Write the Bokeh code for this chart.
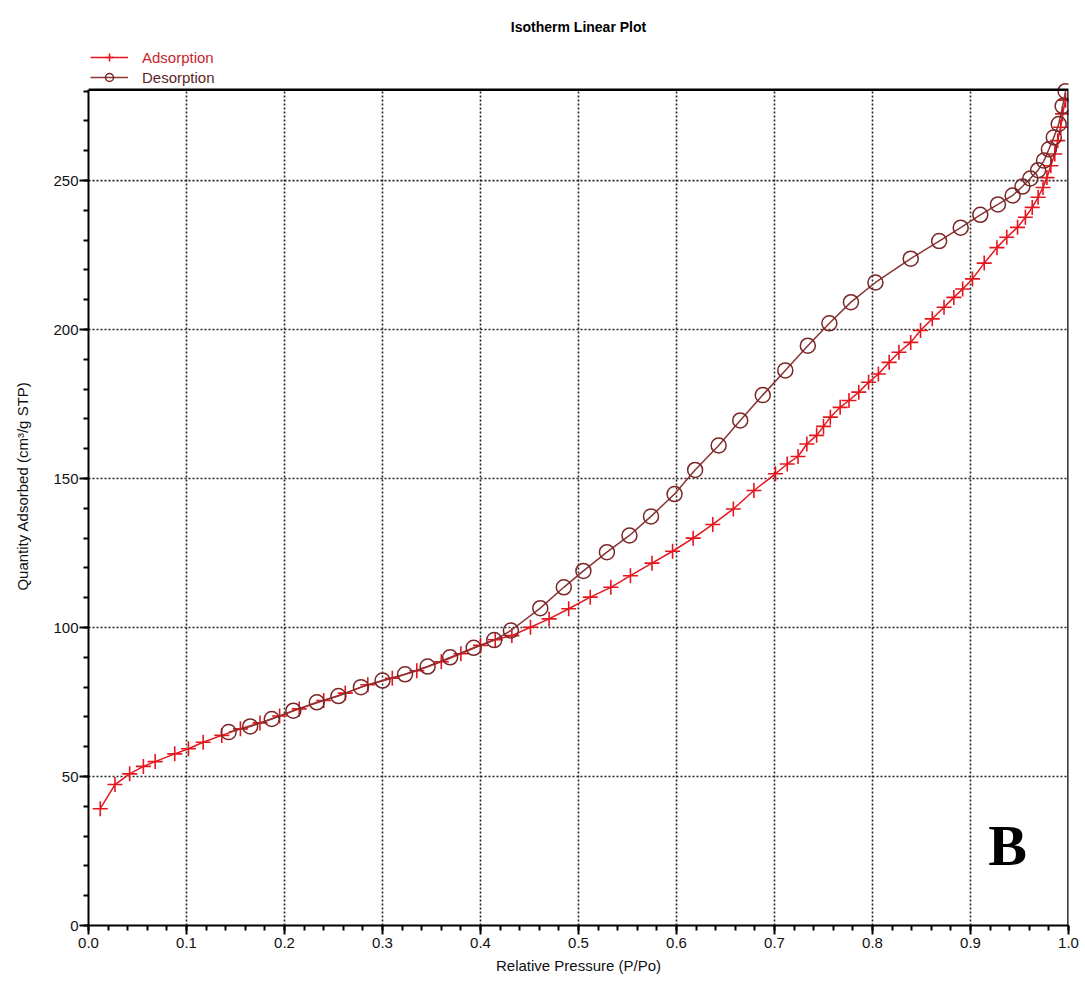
from bokeh.plotting import figure
from bokeh.models import (FixedTicker, NumeralTickFormatter, Legend, LegendItem,
                          Range1d, ColumnDataSource)
from bokeh.core.properties import value
from bokeh.embed import file_html
from bokeh.resources import INLINE

# ---- data ----
ads_x = [0.012, 0.027, 0.042, 0.056, 0.068, 0.088, 0.102, 0.117, 0.136,
         0.155, 0.175, 0.195, 0.215, 0.240, 0.262, 0.285, 0.310, 0.335,
         0.360, 0.380, 0.400, 0.415, 0.432, 0.451, 0.470, 0.490, 0.512,
         0.533, 0.553, 0.575, 0.596, 0.617, 0.637, 0.658, 0.679, 0.701,
         0.713, 0.724, 0.733, 0.743, 0.750, 0.757, 0.767, 0.776, 0.786,
         0.796, 0.806, 0.817, 0.827, 0.839, 0.849, 0.861, 0.873, 0.883,
         0.892, 0.902, 0.914, 0.927, 0.937, 0.948, 0.956, 0.963, 0.969,
         0.974, 0.978, 0.982, 0.986, 0.989, 0.992, 0.994, 0.997]
ads_y = [39.2, 47.3, 50.9, 53.4, 55.0, 57.6, 59.3, 61.5, 63.8,
         66.0, 68.0, 70.3, 72.7, 75.5, 78.0, 80.8, 83.0, 85.5,
         88.5, 91.2, 94.0, 95.9, 97.3, 100.1, 102.9, 106.3, 110.2,
         113.5, 117.4, 121.6, 125.6, 130.0, 134.6, 139.8, 146.0, 151.6,
         154.9, 157.4, 161.6, 164.5, 167.5, 170.6, 173.9, 176.2, 179.0,
         182.3, 185.1, 189.0, 192.4, 195.7, 199.7, 203.6, 207.5, 210.8,
         213.6, 217.0, 222.3, 227.5, 231.0, 234.3, 237.7, 241.0, 244.4,
         247.7, 251.0, 255.0, 258.9, 263.4, 267.9, 272.4, 277.0]

des_x = [0.143, 0.165, 0.187, 0.209, 0.233, 0.255, 0.278, 0.300, 0.323,
         0.346, 0.369, 0.393, 0.414, 0.431, 0.461, 0.485, 0.505, 0.529,
         0.552, 0.574, 0.598, 0.619, 0.643, 0.665, 0.688, 0.711, 0.734,
         0.756, 0.778, 0.803, 0.839, 0.868, 0.890, 0.910, 0.928, 0.943,
         0.953, 0.961, 0.969, 0.975, 0.980, 0.985, 0.990, 0.994, 0.997]
des_y = [64.9, 66.8, 69.3, 72.1, 74.9, 77.0, 80.0, 82.2, 84.3,
         86.9, 90.0, 93.2, 95.8, 99.0, 106.5, 113.5, 119.0, 125.3,
         130.9, 137.3, 144.8, 152.9, 161.1, 169.5, 178.0, 186.3, 194.6,
         202.1, 209.2, 215.8, 223.8, 229.7, 234.2, 238.5, 242.0, 245.0,
         248.0, 250.7, 253.5, 256.7, 260.5, 264.5, 269.0, 275.0, 280.0]

x_ticks = [0.0, 0.1, 0.2, 0.3, 0.4, 0.5, 0.6, 0.7, 0.8, 0.9, 1.0]
y_ticks = [0, 50, 100, 150, 200, 250]

title_text = "Isotherm Linear Plot"
x_label = "Relative Pressure (P/Po)"
y_label = "Quantity Adsorbed (cm³/g STP)"
panel_tag = "B"

# axis box limits (the visible plot box) and the extra room kept above it for the legend
X_MIN, X_MAX = 0.0, 1.0
Y_MIN, Y_BOX, Y_TOP = 0.0, 280.5, 295.0

ADS_COL = "#e3161e"
DES_COL = "#8a3434"
DES_MARK = "#7a2626"
FONT = "Liberation Sans"
TXT = "#111111"

p = figure(width=1085, height=985, output_backend="svg", toolbar_location=None,
           x_range=Range1d(X_MIN, X_MAX), y_range=Range1d(Y_MIN, Y_TOP),
           min_border_left=88, min_border_right=17, min_border_top=46,
           min_border_bottom=60, background_fill_color="white",
           border_fill_color="white")

p.title.text = title_text
p.title.align = "center"
p.title.text_font = FONT
p.title.text_font_size = "14px"
p.title.text_font_style = "bold"
p.title.text_color = "#000000"
p.title.standoff = 24

p.outline_line_color = None

for ax in (p.xaxis[0], p.yaxis[0]):
    ax.axis_line_color = "black"
    ax.axis_line_width = 2
    ax.major_tick_line_color = "black"
    ax.major_tick_line_width = 2
    ax.minor_tick_line_color = "black"
    ax.minor_tick_line_width = 2
    ax.major_tick_out = 9
    ax.major_tick_in = 0
    ax.minor_tick_out = 5
    ax.minor_tick_in = 0
    ax.major_label_text_font = FONT
    ax.major_label_text_font_size = "15px"
    ax.major_label_text_color = TXT
    ax.axis_label_text_font = FONT
    ax.axis_label_text_font_size = "15px"
    ax.axis_label_text_font_style = "normal"
    ax.axis_label_text_color = TXT

minor_x = [round(i * 0.02, 2) for i in range(51)]
minor_y = list(range(0, 281, 10))
p.xaxis.ticker = FixedTicker(ticks=x_ticks, minor_ticks=minor_x)
p.yaxis.ticker = FixedTicker(ticks=y_ticks, minor_ticks=minor_y)
p.yaxis.bounds = (Y_MIN, Y_BOX)
p.xaxis.formatter = NumeralTickFormatter(format="0.0")
p.xaxis.axis_label = x_label
p.yaxis.axis_label = y_label
p.xaxis.major_label_standoff = 3
p.yaxis.major_label_standoff = 1
p.xaxis.axis_label_standoff = 6
p.yaxis.axis_label_standoff = 19

# grid drawn as dotted segments inside the plot box only
p.xgrid.visible = False
p.ygrid.visible = False
grid_kw = dict(line_color="#222222", line_width=1.6, line_dash="2 2")
p.segment(x0=x_ticks[1:-1], y0=[Y_MIN] * (len(x_ticks) - 2),
          x1=x_ticks[1:-1], y1=[Y_BOX] * (len(x_ticks) - 2), **grid_kw)
p.segment(x0=[X_MIN] * (len(y_ticks) - 1), y0=y_ticks[1:],
          x1=[X_MAX] * (len(y_ticks) - 1), y1=y_ticks[1:], **grid_kw)

ads = ColumnDataSource(dict(x=ads_x, y=ads_y))
des = ColumnDataSource(dict(x=des_x, y=des_y))

ads_line = p.line("x", "y", source=ads, line_color=ADS_COL, line_width=1.5)
ads_mark = p.scatter("x", "y", source=ads, marker="cross", size=15,
                     line_color=ADS_COL, line_width=1.6)
des_line = p.line("x", "y", source=des, line_color=DES_COL, line_width=1.5)
des_mark = p.scatter("x", "y", source=des, marker="circle", size=15,
                     line_color=DES_MARK, fill_alpha=0, line_width=1.5)

# top and right edges of the plot box
p.line(x=[X_MIN, X_MAX, X_MAX], y=[Y_BOX, Y_BOX, Y_MIN], line_color="black",
       line_width=2.5)

p.text(x=[0.918], y=[26.8], text=[panel_tag], text_font=value("Liberation Serif"),
       text_font_size="58px", text_font_style="bold", text_color="black",
       text_baseline="alphabetic", text_align="left")

leg1 = Legend(items=[LegendItem(label="Adsorption", renderers=[ads_line, ads_mark])],
              location=(2, 858), label_text_color="#c8242a")
leg2 = Legend(items=[LegendItem(label="Desorption", renderers=[des_line, des_mark])],
              location=(2, 838), label_text_color="#5c2626")
for lg in (leg1, leg2):
    lg.margin = 0
    lg.padding = 0
    lg.spacing = 0
    lg.glyph_width = 38
    lg.glyph_height = 20
    lg.label_height = 20
    lg.label_standoff = 14
    lg.label_text_font = FONT
    lg.label_text_font_size = "15px"
    lg.border_line_alpha = 0
    lg.background_fill_alpha = 0
    p.add_layout(lg, "center")

open("out.html", "w").write(file_html(p, INLINE))
